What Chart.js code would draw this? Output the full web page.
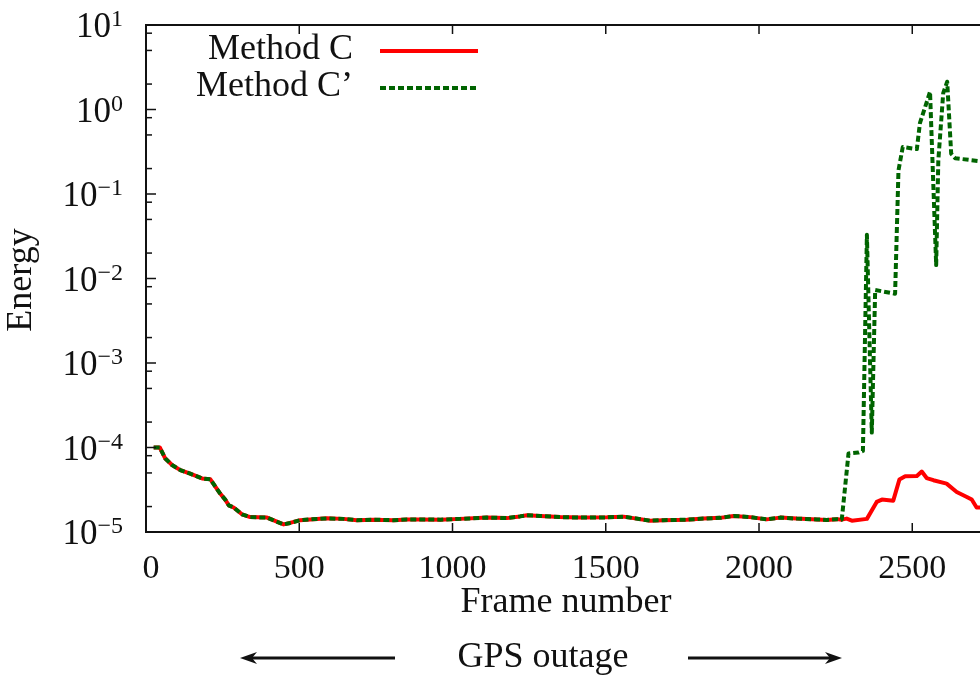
<!DOCTYPE html>
<html>
<head>
<meta charset="utf-8">
<script src="https://cdn.jsdelivr.net/npm/chart.js@4.4.1/dist/chart.umd.min.js"></script>
<style>
  html, body { margin: 0; padding: 0; background: #fff; overflow: hidden; }
  canvas { display: block; }
</style>
</head>
<body>
<canvas id="energyChart" width="980" height="681"></canvas>
<script>
// Energy per frame, Method C vs Method C' (log scale)

// part where both methods give the same curve
const sharedFrames = [25, 45, 63, 85, 112, 144, 183, 210, 242, 259, 270, 286, 313, 340, 395, 411, 449, 470, 503, 536,
    590, 644, 688, 742, 808, 851, 895, 960, 1025, 1112, 1177, 1220, 1243, 1286, 1351, 1417, 1504, 1558, 1590, 1645,
    1688, 1764, 1819, 1873, 1917, 1971, 2025, 2069, 2123, 2189, 2221, 2254, 2270];
const sharedEnergy = [1.0e-4, 1.0e-4, 7.4e-5, 6.2e-5, 5.4e-5, 4.9e-5, 4.3e-5, 4.2e-5, 2.85e-5, 2.4e-5, 2.07e-5, 1.95e-5,
    1.62e-5, 1.5e-5, 1.48e-5, 1.4e-5, 1.23e-5, 1.28e-5, 1.38e-5, 1.41e-5, 1.45e-5, 1.43e-5, 1.38e-5, 1.4e-5, 1.38e-5,
    1.41e-5, 1.41e-5, 1.4e-5, 1.43e-5, 1.48e-5, 1.46e-5, 1.53e-5, 1.58e-5, 1.55e-5, 1.5e-5, 1.48e-5, 1.49e-5, 1.52e-5,
    1.46e-5, 1.36e-5, 1.38e-5, 1.4e-5, 1.44e-5, 1.47e-5, 1.55e-5, 1.5e-5, 1.41e-5, 1.48e-5, 1.44e-5, 1.41e-5, 1.39e-5,
    1.42e-5, 1.4e-5];

// after the split
const framesC = [2286, 2303, 2352, 2384, 2401, 2438, 2458, 2477, 2515, 2531, 2547, 2569, 2612, 2645, 2678, 2694, 2710, 2760];
const energyC = [1.44e-5, 1.36e-5, 1.43e-5, 2.27e-5, 2.42e-5, 2.35e-5, 4.17e-5, 4.56e-5, 4.6e-5, 5.2e-5, 4.35e-5, 4.1e-5,
    3.74e-5, 2.98e-5, 2.6e-5, 2.42e-5, 1.95e-5, 1.95e-5];

const framesCp = [2292, 2324, 2339, 2352, 2368, 2379, 2444, 2455, 2469, 2515, 2525, 2558, 2578, 2585, 2601, 2614, 2627, 2640, 2760];
const energyCp = [8.5e-5, 8.7e-5, 9.1e-5, 3.3e-2, 1.5e-4, 7.3e-3, 6.6e-3, 0.19, 0.36, 0.34, 0.69, 1.62, 0.0144, 0.25, 1.56,
    2.13, 0.30, 0.265, 0.235];

const xTicks = [0, 500, 1000, 1500, 2000, 2500];
const yDecades = [-5, -4, -3, -2, -1, 0, 1];
const yMinor = [2, 5, 8];

const SERIF = '"Liberation Serif", "Times New Roman", serif';
const INK = '#111';

function toPoints(xs, ys) {
    return xs.map((v, i) => ({ x: v, y: ys[i] }));
}

const seriesC = toPoints(sharedFrames.concat(framesC), sharedEnergy.concat(energyC));
const seriesCp = toPoints(sharedFrames.concat(framesCp), sharedEnergy.concat(energyCp));

function line(ctx, x1, y1, x2, y2) {
    ctx.beginPath();
    ctx.moveTo(x1, y1);
    ctx.lineTo(x2, y2);
    ctx.stroke();
}

function arrow(ctx, from, to, y) {
    const dir = Math.sign(to - from);
    line(ctx, from, y, to - dir * 6, y);
    ctx.beginPath();
    ctx.moveTo(to, y);
    ctx.lineTo(to - dir * 17, y - 6);
    ctx.lineTo(to - dir * 12, y);
    ctx.lineTo(to - dir * 17, y + 6);
    ctx.closePath();
    ctx.fill();
}

// frame, ticks, labels, legend - drawn like the gnuplot original
const frameTicks = {
    id: 'frameTicks',
    afterDraw(chart) {
        const { ctx, chartArea: area, scales: { x, y } } = chart;
        ctx.save();
        ctx.strokeStyle = INK;
        ctx.fillStyle = INK;

        // border
        ctx.lineWidth = 2;
        ctx.beginPath();
        ctx.moveTo(area.right + 5, area.top);
        ctx.lineTo(area.left, area.top);
        ctx.lineTo(area.left, area.bottom);
        ctx.lineTo(area.right + 5, area.bottom);
        ctx.stroke();

        // x ticks + labels
        ctx.lineWidth = 1.5;
        ctx.font = '34px ' + SERIF;
        ctx.textAlign = 'center';
        ctx.textBaseline = 'alphabetic';
        xTicks.forEach(v => {
            const px = x.getPixelForValue(v);
            if (v > 0) {
                line(ctx, px, area.bottom, px, area.bottom - 9);
                line(ctx, px, area.top, px, area.top + 9);
            }
            ctx.fillText(String(v), v === 0 ? px + 5 : px, 578);
        });

        // y ticks + labels
        yDecades.forEach(k => {
            const py = y.getPixelForValue(Math.pow(10, k));
            line(ctx, area.left, py, area.left + 10, py);
            if (k < 1) {
                yMinor.forEach(m => {
                    const pm = y.getPixelForValue(m * Math.pow(10, k));
                    line(ctx, area.left, pm, area.left + 6, pm);
                });
            }
            const exp = k < 0 ? '\u2212' + (-k) : String(k);
            ctx.font = '24px ' + SERIF;
            const expW = ctx.measureText(exp).width;
            ctx.textAlign = 'left';
            ctx.fillText(exp, 123 - expW, py + 1);
            ctx.font = '35px ' + SERIF;
            ctx.textAlign = 'right';
            ctx.fillText('10', 123 - expW, py + 12);
        });

        // axis titles
        ctx.font = '36px ' + SERIF;
        ctx.textAlign = 'center';
        ctx.textBaseline = 'middle';
        ctx.fillText('Frame number', 566, 603);
        ctx.fillText('GPS outage', 543, 658);
        ctx.save();
        ctx.translate(22, 280);
        ctx.rotate(-Math.PI / 2);
        ctx.fillText('Energy', 0, 0);
        ctx.restore();

        // outage arrows
        ctx.lineWidth = 3;
        arrow(ctx, 395, 240, 658);
        arrow(ctx, 688, 842, 658);

        // legend
        const rows = [chart.data.datasets[1], chart.data.datasets[0]];
        ctx.textAlign = 'right';
        rows.forEach((ds, i) => {
            const ly = 50 + i * 37;
            ctx.fillStyle = INK;
            ctx.fillText(ds.label, 353, ly);
            ctx.strokeStyle = ds.borderColor;
            ctx.lineWidth = ds.borderWidth;
            ctx.setLineDash(ds.borderDash || []);
            line(ctx, 380, ly + 1, 478, ly + 1);
            ctx.setLineDash([]);
        });
        ctx.restore();
    }
};

new Chart(document.getElementById('energyChart'), {
    type: 'line',
    data: {
        datasets: [
            {
                label: 'Method C\u2019',
                data: seriesCp,
                borderColor: '#006400',
                borderWidth: 4,
                borderDash: [6, 3],
                borderCapStyle: 'butt',
                borderJoinStyle: 'round',
                order: 0
            },
            {
                label: 'Method C',
                data: seriesC,
                borderColor: '#ff0000',
                borderWidth: 4,
                borderJoinStyle: 'round',
                order: 1
            }
        ]
    },
    options: {
        responsive: false,
        animation: false,
        devicePixelRatio: 1,
        layout: { padding: { left: 146, top: 25, right: 0, bottom: 149 } },
        elements: {
            point: { radius: 0 },
            line: { tension: 0, fill: false }
        },
        plugins: {
            legend: { display: false },
            tooltip: { enabled: false }
        },
        scales: {
            x: { type: 'linear', min: 0, max: 2721, display: false },
            y: { type: 'logarithmic', min: 1e-5, max: 10, display: false }
        }
    },
    plugins: [frameTicks]
});
</script>
</body>
</html>
